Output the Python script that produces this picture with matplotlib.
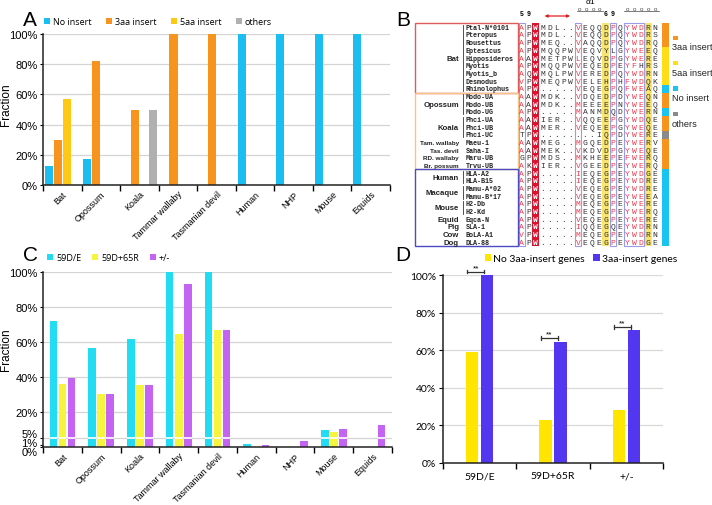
import matplotlib
matplotlib.use('Agg')
import matplotlib.pyplot as plt
import matplotlib.transforms as mtransforms
from matplotlib.patches import Rectangle
import numpy as np

W, H = 712, 506

species = ['Bat', 'Opossum', 'Koala', 'Tammar wallaby', 'Tasmanian devil',
           'Human', 'NHP', 'Mouse', 'Equids']

# panel A : insert type per species (%)
a_labels = ['No insert', '3aa insert', '5aa insert', 'others']
a_no_insert = [12.5, 17.5, 0, 0, 0, 100, 100, 100, 100]
a_3aa = [30, 82, 50, 100, 100, 0, 0, 0, 0]
a_5aa = [57, 0, 0, 0, 0, 0, 0, 0, 0]
a_others = [0, 0, 50, 0, 0, 0, 0, 0, 0]

# panel C : residue features per species (%)
c_labels = ['59D/E', '59D+65R', '+/-']
c_59de = [72, 56.5, 62, 100, 100, 2, 0, 9.7, 0]
c_59d65r = [36, 30.5, 35.5, 64.5, 67, 0, 0, 8.8, 0]
c_pm = [39.5, 30.5, 35.5, 93, 67, 1.1, 3.4, 10.3, 12.8]

# panel D
d_cats = ['59D/E', '59D+65R', '+/-']
d_labels = ['No 3aa-insert genes', '3aa-insert genes']
d_no3aa = [58.8, 23, 28]
d_3aa = [100, 64.6, 70.5]

# panel B : alignment
b_groups = ['Bat', 'Opossum', 'Koala', 'Tam. wallaby', 'Tas. devil', 'RD. wallaby',
            'Br. possum', 'Human', 'Macaque', 'Mouse', 'Equid', 'Pig', 'Cow', 'Dog']
b_group_sizes = [9, 3, 3, 1, 1, 1, 1, 2, 2, 2, 1, 1, 1, 1]
b_clade_sizes = [9, 10, 10]
b_names = ['Ptal-N*0101', 'Pteropus', 'Rousettus', 'Eptesicus', 'Hipposideros',
           'Myotis', 'Myotis_b', 'Desmodus', 'Rhinolophus',
           'Modo-UA', 'Modo-UB', 'Modo-UG', 'Phci-UA', 'Phci-UB', 'Phci-UC',
           'Maeu-1', 'Saha-I', 'Maru-UB', 'Trvu-UB',
           'HLA-A2', 'HLA-B15', 'Mamu-A*02', 'Mamu-B*17', 'H2-Db', 'H2-Kd',
           'Eqca-N', 'SLA-1', 'BoLA-A1', 'DLA-88']
b_seqs = ['APWMDL..VEQQDPQYWDRN',
          'APWMDL..VEQQDPQYWDRS',
          'APWMEQ..VAQQDPQYWDRQ',
          'APWMQQPWVEQVYLGYWEEQ',
          'AAWMETPWLEQVDPGYWERE',
          'APWMQQPWVEQEDPEYFHRS',
          'AQWMQLPWVEREDPQYWDRN',
          'VPWMEQPWVELEHPHFWDQK',
          'APW.....VEQEGPQFWEAQ',
          'AAWMDK..VDQEDPDYWEQN',
          'AAWMDK..MEEEEPNYWEEQ',
          'APW.....MANMDQDYWERN',
          'AAWIER..VQQEEPGYWDQE',
          'AAWMER..VEQEEPGYWEQE',
          'TPW........IQPDYWERE',
          'AAWMEG..MGQEDPEYWERV',
          'AAWMEK..VKDVDPGYWEQE',
          'GPWMDS..MKHEEPEFWERQ',
          'AKWIER..VGEEDPEYWERQ',
          'APW.....IEQEGPEYWDGE',
          'APW.....IEQEGPEYWDRE',
          'APW.....VEQEGPEYWDRE',
          'APW.....VEQEGPEYWEEA',
          'APW.....MEQEGPEYWERE',
          'APW.....MEQEGPEYWERQ',
          'APW.....VEQEGPEYWERE',
          'APW.....IQQEGQEYWDRN',
          'VPW.....MEQEGPEYWDRN',
          'APW.....VEQEGPEYWDGE']
b_insert = ['3aa insert'] * 3 + ['5aa insert'] * 5 + ['No insert'] + \
           ['3aa insert'] * 2 + ['No insert'] + ['3aa insert'] * 2 + ['others'] + \
           ['3aa insert'] * 4 + ['No insert'] * 10

plt.rcParams['font.family'] = ['Liberation Sans', 'DejaVu Sans']
fig = plt.figure(figsize=(W / 100, H / 100), dpi=100)


def box(left, top, right, bottom):
    return [left / W, 1 - bottom / H, (right - left) / W, (bottom - top) / H]


def species_axes(ax, series, colors, pitch, width, grid):
    x = np.arange(len(species)) + 0.5
    n = len(series)
    handles = []
    for k, (vals, col) in enumerate(zip(series, colors)):
        b = ax.bar(x + (k - (n - 1) / 2) * pitch, vals, width, color=col,
                   linewidth=0, zorder=2)
        handles.append(b)
    for g in grid:
        ax.axhline(g, color='#D4D4D4', lw=0.9, zorder=0)
    ax.set_xlim(0, len(species))
    ax.set_ylim(0, 100)
    ax.set_xticks(x)
    ax.set_xticklabels(species, rotation=45, ha='right', rotation_mode='anchor',
                       fontsize=6.5)
    ax.tick_params(axis='x', which='major', length=0, pad=3)
    ax.set_xticks(np.arange(len(species) + 1), minor=True)
    ax.tick_params(axis='x', which='minor', length=4, width=1, direction='out')
    ax.tick_params(axis='y', length=2, labelsize=8, pad=2)
    for s in ['top', 'right']:
        ax.spines[s].set_visible(False)
    for s in ['left', 'bottom']:
        ax.spines[s].set_linewidth(1.1)
        ax.spines[s].set_color('#222222')
    return handles


# ---------------- A
axA = fig.add_axes(box(43, 35, 390, 186))
hA = species_axes(axA, [a_no_insert, a_3aa, a_5aa, a_others],
                  ['#1BBEF0', '#F7941E', '#FFC815', '#B0B0B0'], 0.233, 0.21,
                  [20, 40, 60, 80, 100])
axA.set_yticks(np.arange(0, 101, 20))
axA.set_yticklabels(['%d%%' % v for v in range(0, 101, 20)])
axA.legend(hA, a_labels, ncol=4, loc='lower left', bbox_to_anchor=(44 / W, 1 - 27 / H),
           bbox_transform=fig.transFigure, frameon=False, handlelength=0.7,
           handleheight=0.7, handletextpad=0.3, columnspacing=1.6,
           borderpad=0, borderaxespad=0, prop={'family': 'Open Sans', 'size': 6.5})
fig.text(6 / W, 1 - 105 / H, 'Fraction', rotation=90, ha='center', va='center', fontsize=8.5)

# ---------------- C
axC = fig.add_axes(box(43, 273, 392, 448))
hC = species_axes(axC, [c_59de, c_59d65r, c_pm],
                  ['#22DCF4', '#F6F43C', '#C563F2'], 0.233, 0.195,
                  [5, 20, 40, 60, 80, 100])
xC = np.arange(len(species)) + 0.5
for k, vals in enumerate([c_59de, c_59d65r, c_pm]):
    for xi, v in zip(xC + (k - 1) * 0.233, vals):
        if v > 5:
            axC.hlines(5, xi - 0.0975, xi + 0.0975, color='white', lw=1.2, zorder=3)
cticks = [0, 1, 5, 20, 40, 60, 80, 100]
axC.set_yticks(cticks)
axC.set_yticklabels(['%d%%' % v for v in cticks])
shift = {0: -4.5, 1: 3, 5: 5}
for t, v in zip(axC.yaxis.get_major_ticks(), cticks):
    if v in shift:
        t.label1.set_transform(t.label1.get_transform() +
                               mtransforms.ScaledTranslation(0, shift[v] / 100, fig.dpi_scale_trans))
axC.legend(hC, c_labels, ncol=3, loc='lower left', bbox_to_anchor=(47 / W, 1 - 263 / H),
           bbox_transform=fig.transFigure, frameon=False, handlelength=0.7,
           handleheight=0.7, handletextpad=0.3, columnspacing=1.2,
           borderpad=0, borderaxespad=0, prop={'family': 'Open Sans', 'size': 6.5})
fig.text(6 / W, 1 - 350 / H, 'Fraction', rotation=90, ha='center', va='center', fontsize=8.5)

# ---------------- D
axD = fig.add_axes(box(443, 276, 663, 464))
xD = np.arange(len(d_cats)) + 0.5
hD = [axD.bar(xD - 0.1025, d_no3aa, 0.17, color='#FFE500', lw=0, zorder=2),
      axD.bar(xD + 0.1025, d_3aa, 0.17, color='#5236F0', lw=0, zorder=2)]
for g in [20, 40, 60, 80, 100]:
    axD.axhline(g, color='#D9D9D9', lw=0.9, zorder=0)
axD.set_xlim(0, len(d_cats))
axD.set_ylim(0, 100)
axD.set_xticks(xD)
axD.set_xticklabels(d_cats, fontsize=7.5, family='Lato')
axD.tick_params(axis='x', which='major', length=0, pad=6)
axD.set_xticks(np.arange(len(d_cats) + 1), minor=True)
axD.tick_params(axis='x', which='minor', length=4, width=1, direction='out')
axD.set_yticks(np.arange(0, 101, 20))
axD.set_yticklabels(['%d%%' % v for v in range(0, 101, 20)], fontsize=7.5, family='Lato')
axD.tick_params(axis='y', length=3, pad=2)
for s in ['top', 'right']:
    axD.spines[s].set_visible(False)
for s in ['left', 'bottom']:
    axD.spines[s].set_linewidth(1.1)
    axD.spines[s].set_color('#222222')
for xi, v in zip(xD, d_3aa):
    y = v + 1.8
    x1, x2 = xi - 0.17, xi + 0.065
    axD.plot([x1, x2], [y, y], color='#333333', lw=0.9, clip_on=False)
    axD.plot([x1, x1], [y - 1, y + 1], color='#333333', lw=0.9, clip_on=False)
    axD.plot([x2, x2], [y - 1, y + 1], color='#333333', lw=0.9, clip_on=False)
    axD.text((x1 + x2) / 2, y + 0.3, '**', ha='center', va='bottom', fontsize=6)
axD.legend(hD, d_labels, ncol=2, loc='lower left', bbox_to_anchor=(485 / W, 1 - 264 / H),
           bbox_transform=fig.transFigure, frameon=False, handlelength=0.6,
           handleheight=0.6, handletextpad=0.2, columnspacing=0.8,
           borderpad=0, borderaxespad=0, prop={'family': 'Lato', 'size': 7.5})

# ---------------- B
axB = fig.add_axes(box(395, 0, 712, 250))
axB.set_xlim(395, 712)
axB.set_ylim(250, 0)
axB.axis('off')
col0, dcol = 521.7, 7.02
row0, drow = 28.3, 7.68
colx = col0 + dcol * np.arange(len(b_seqs[0]))
rowy = row0 + drow * np.arange(len(b_seqs))
top = rowy[0] - drow / 2
bot = rowy[-1] + drow / 2

axB.add_patch(Rectangle((colx[2] - dcol / 2, top), dcol, bot - top, fc='#D9142F', ec='none'))
for c in [12, 18]:
    axB.add_patch(Rectangle((colx[c] - dcol / 2, top), dcol, bot - top, fc='#F8E46E', ec='none'))
for c0, c1 in [(0, 0), (8, 8), (13, 13), (15, 17)]:
    axB.add_patch(Rectangle((colx[c0] - dcol / 2 + 0.4, top), dcol * (c1 - c0 + 1) - 0.8,
                            bot - top, fill=False, ec='#9C9CE4', lw=0.8))

red_letters = {0: 'AV', 8: 'VLMI', 13: 'P', 15: 'YF', 16: 'WF', 17: 'DE'}
for r, seq in enumerate(b_seqs):
    for c, ch in enumerate(seq):
        if c == 2:
            col = 'white'
        elif ch in red_letters.get(c, ''):
            col = '#EE3A4A'
        else:
            col = '#333333'
        axB.text(colx[c], rowy[r], ch, ha='center', va='center', fontsize=5.8,
                 family='Liberation Mono', color=col,
                 fontweight='bold' if c == 2 else 'normal')
    axB.text(466, rowy[r], b_names[r], ha='left', va='center', fontsize=4.9,
             family='Liberation Mono', fontweight='bold', color='#222222')

start = 0
for g, n in zip(b_groups, b_group_sizes):
    yc = rowy[start:start + n].mean()
    axB.text(459, yc, g, ha='right', va='center', fontsize=4.6 if '.' in g else 5.6,
             fontweight='bold', color='#222222')
    if n > 1:
        axB.plot([463, 463], [rowy[start] - 2.5, rowy[start + n - 1] + 2.5],
                 color='#333333', lw=0.6)
    start += n

start = 0
for n, col in zip(b_clade_sizes, ['#E05A5A', '#F5C487', '#4B4BC4']):
    y0 = rowy[start] - drow / 2
    y1 = rowy[start + n - 1] + drow / 2
    axB.add_patch(Rectangle((415, y0), 103, y1 - y0, fill=False, ec=col, lw=1))
    start += n

ins_colors = {'3aa insert': '#F7941E', '5aa insert': '#FFDE17',
              'No insert': '#19C3F2', 'others': '#8A8A8A'}
for r, cat in enumerate(b_insert):
    axB.add_patch(Rectangle((662.3, rowy[r] - drow / 2), 6.5, drow, fc=ins_colors[cat], ec='none'))
for k, lab in enumerate(['3aa insert', '5aa insert', 'No insert', 'others']):
    axB.add_patch(Rectangle((673, 36.5 + 25.4 * k), 4.5, 4.5, fc=ins_colors[lab], ec='none'))
    axB.text(672, 48 + 25.4 * k, lab, ha='left', va='center', fontsize=6.6, color='#222222')

# numbering, insert arrow and helix
for c, d in [(0, '5'), (1, '9'), (12, '6'), (13, '9')]:
    axB.text(colx[c], 14, d, ha='center', va='center', fontsize=4.8,
             family='Liberation Mono', fontweight='bold')
axB.annotate('', xy=(colx[3] - 1, 17), xytext=(colx[7] + 2, 17),
             arrowprops=dict(arrowstyle='<|-|>', color='#E02020', lw=0.9, mutation_scale=4))
axB.text(590, 3, 'α1', ha='center', va='center', fontsize=6)
for xa, xb, nl in [(576.7, 603, 4), (624, 659, 5)]:
    xs = np.linspace(xa, xb, nl + 1)
    for xi in (xs[:-1] + xs[1:]) / 2:
        axB.text(xi, 9.5, 'o', ha='center', va='center', fontsize=4.5, color='#444444')
    axB.plot([xa, xb], [12.3, 12.3], color='#444444', lw=0.5)

# panel letters
for lab, px, py in [('A', 30, 20), ('B', 403, 20), ('C', 30, 256), ('D', 403, 256)]:
    fig.text(px / W, 1 - py / H, lab, ha='center', va='center', fontsize=15)

fig.savefig('out.png', dpi=100)
